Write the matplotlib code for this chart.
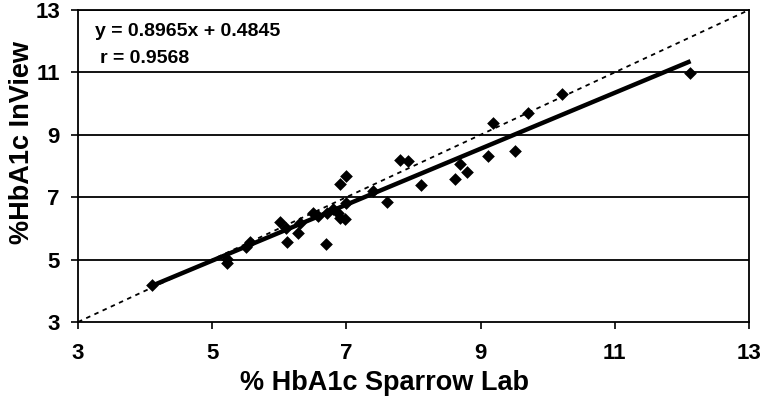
import numpy as np
import matplotlib
matplotlib.use('Agg')
import matplotlib.pyplot as plt

# valores (Sparrow Lab x InView)
sparrow = [4.10, 5.22, 5.22, 5.50, 5.56, 6.01, 6.10, 6.11, 6.28, 6.31,
           6.50, 6.58, 6.70, 6.71, 6.80, 6.87, 6.90, 7.00, 6.90, 6.98,
           7.00, 7.40, 7.61, 7.80, 7.92, 8.11, 8.62, 8.69, 8.80, 9.11,
           9.18, 9.51, 9.71, 10.21, 12.12]
inview = [4.19, 5.02, 4.88, 5.40, 5.56, 6.21, 6.01, 5.55, 5.86, 6.17,
          6.49, 6.40, 5.50, 6.49, 6.62, 6.49, 7.42, 7.68, 6.33, 6.30,
          6.81, 7.20, 6.86, 8.19, 8.16, 7.39, 7.58, 8.06, 7.82, 8.32,
          9.38, 8.48, 9.70, 10.32, 10.97]

slope = 0.8965
intercept = 0.4845
r_value = 0.9568
fit_range = [4.1, 12.1]

ticks = [3, 5, 7, 9, 11, 13]

plt.rcParams['font.family'] = ['Liberation Sans', 'DejaVu Sans']
plt.rcParams['font.weight'] = 'bold'

fig = plt.figure(figsize=(7.68, 4.08), dpi=100)
ax = fig.add_axes([0.1016, 0.2108, 0.8735, 0.7647])

# linhas de grade horizontais
for t in ticks[1:]:
    ax.axhline(t, color='black', linewidth=1.3, zorder=1)

# linha de identidade
ax.plot([3, 13], [3, 13], color='black', linestyle=(0, (2.5, 2.5)), linewidth=1.3, zorder=2)

# linha de regressão
xf = np.array(fit_range)
ax.plot(xf, slope * xf + intercept, color='black', linewidth=3.2, zorder=3)

ax.scatter(sparrow, inview, marker='D', s=42, color='black', zorder=4, linewidths=0)

ax.set_xlim(3, 13)
ax.set_ylim(3, 13)
ax.set_xticks(ticks)
ax.set_yticks(ticks)
ax.tick_params(direction='out', length=5, width=1.2, labelsize=16)
ax.tick_params(axis='x', pad=10)
ax.tick_params(axis='y', pad=8)
for s in ax.spines.values():
    s.set_linewidth(1.3)

ax.set_xlabel('% HbA1c Sparrow Lab', fontsize=19.5, fontweight='bold')
ax.set_ylabel('%HbA1c InView', fontsize=19.5, fontweight='bold')
ax.xaxis.label.set_va('center')
ax.yaxis.label.set_va('center')
ax.xaxis.set_label_coords(0.457, -0.196)
ax.yaxis.set_label_coords(-0.083, 0.574)

ax.text(0.025, 0.917, 'y = %.4fx + %.4f' % (slope, intercept), transform=ax.transAxes,
        fontsize=14, fontweight='bold')
ax.text(0.033, 0.83, 'r = %.4f' % r_value, transform=ax.transAxes,
        fontsize=14, fontweight='bold')

fig.savefig('out.png', dpi=100)
